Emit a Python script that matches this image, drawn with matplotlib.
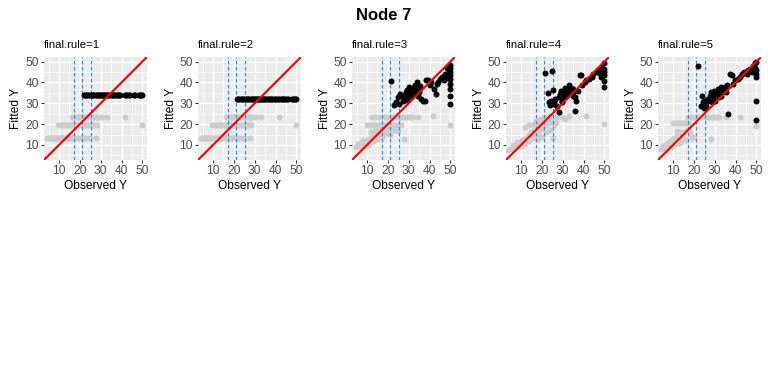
import matplotlib
matplotlib.use("Agg")
import matplotlib.pyplot as plt

plt.rcParams["font.family"] = ["Liberation Sans", "DejaVu Sans"]

# ── data ──
LIMS = (2.75, 52.25)
CUTS = [17.0, 21.2, 25.2]           # dashed split points on observed Y
RULES = ["final.rule=1", "final.rule=2", "final.rule=3", "final.rule=4", "final.rule=5"]

# rule 1 / 2: constant fitted value
rule1_fit = 34.2
rule1_obs = [21.8, 22.4, 23.0, 23.6, 24.1, 24.7, 25.2, 25.8, 26.4, 27.0, 27.5, 28.1,
             28.7, 29.1, 29.6, 30.1, 30.7, 31.2, 31.6, 32.0, 32.5, 33.1, 33.6, 34.2,
             34.9, 35.4, 36.0, 36.5, 37.0, 37.6, 38.2, 38.7, 39.4, 41.7, 42.3, 42.8,
             43.5, 44.0, 46.0, 46.7, 48.3, 48.8, 49.4, 50.0]
rule2_fit = 32.0
rule2_obs = [21.4, 22.0, 22.6, 23.2, 23.8, 24.4, 25.0, 25.6, 26.2, 26.8, 27.4, 28.0,
             28.6, 29.1, 29.6, 30.1, 30.6, 31.1, 31.6, 32.1, 32.6, 33.1, 33.6, 34.1,
             34.6, 35.1, 35.6, 36.2, 36.7, 37.3, 37.9, 38.5, 39.1, 39.8, 40.4, 41.0,
             41.8, 42.4, 43.0, 43.6, 44.2, 44.8, 45.4, 46.1, 47.8, 48.4, 49.0, 49.6, 50.0]

# other observations for rules 1 and 2 (three fitted levels)
grey12_lo_fit = 13.3
grey12_lo_obs = [4.4, 5.0, 5.6, 6.3, 7.0, 7.2, 7.5, 8.1, 8.4, 8.8, 9.5, 10.2, 10.4, 10.9,
                 11.3, 11.8, 12.5, 12.7, 13.1, 13.4, 13.8, 14.1, 14.4, 15.0, 15.6, 16.1,
                 16.6, 17.2, 17.8, 18.4, 19.1, 19.6, 20.3, 21.0, 21.7, 22.6, 23.9, 25.0, 27.5]
grey12_mid_fit = 19.8
grey12_mid_obs = [9.7, 10.5, 11.3, 12.0, 12.7, 13.3, 13.9, 14.5, 15.1, 15.6, 16.1, 16.5,
                  17.1, 17.5, 18.2, 18.7, 19.3, 19.9, 20.4, 21.0, 21.6, 22.2, 22.8, 23.4,
                  24.1, 24.7, 25.3, 26.1, 27.0, 28.1, 50.0]
grey12_hi_fit = 23.4
grey12_hi_obs = [16.3, 17.0, 17.8, 18.5, 19.1, 19.7, 20.2, 20.6, 21.2, 21.7, 22.2, 22.6,
                 23.1, 23.6, 24.3, 24.8, 25.3, 26.0, 26.6, 27.5, 28.4, 29.2, 30.4, 33.2, 41.5]

# rule 3
rule3_obs = [21.6, 23.1, 24.0, 25.2, 24.7, 26.0, 27.4, 28.0, 28.5, 29.3, 29.7, 30.3, 30.7,
             31.0, 31.8, 31.5, 32.3, 32.6, 33.5, 34.0, 34.3, 35.1, 35.6, 36.0, 36.8, 37.6,
             38.1, 39.3, 40.1, 40.9, 42.2, 42.9, 43.4, 44.2, 45.0, 46.2, 47.5, 48.3, 48.8,
             49.5, 50.0, 50.0, 50.0, 50.0, 50.0, 50.0, 50.0, 50.0, 50.0, 48.0, 47.2,
             28.8, 29.8, 31.0, 28.2, 27.0, 30.2, 33.0, 34.6]
rule3_fit = [40.7, 29.3, 30.7, 29.9, 33.2, 34.5, 30.9, 32.9, 35.3, 36.4, 34.2, 35.3, 32.9,
             36.9, 35.8, 33.7, 37.4, 34.5, 36.1, 40.2, 33.7, 35.3, 38.1, 32.0, 30.9, 31.2,
             41.3, 41.0, 38.6, 40.2, 36.9, 34.5, 39.4, 40.2, 41.8, 42.7, 44.3, 47.2, 42.3,
             45.9, 48.4, 47.2, 45.1, 43.5, 41.8, 39.4, 36.9, 33.7, 29.9, 42.3, 41.0,
             31.7, 32.0, 34.8, 34.2, 33.7, 37.8, 38.6, 36.9]
grey3_obs = [5.0, 5.5, 6.2, 7.0, 7.5, 8.0, 8.5, 9.0, 9.5, 10.0, 10.5, 11.0, 11.5, 12.0,
             12.5, 13.0, 13.5, 14.0, 14.5, 15.0, 15.5, 16.0, 16.5, 17.2, 18.0, 19.0, 20.0,
             21.0, 22.0, 23.5, 25.0, 27.7,
             6.0, 8.0, 9.0, 11.0, 13.0, 15.0, 17.0, 19.0, 21.0, 12.0, 14.0, 16.0, 18.0,
             20.0, 4.5, 7.0, 10.0,
             12.6, 14.0, 15.5, 17.0, 18.0, 19.0, 20.0, 21.0, 22.0, 23.0, 24.0, 25.0, 26.0,
             27.0, 28.0, 29.0, 30.0, 31.0, 32.0, 34.3,
             10.0, 11.0, 12.0, 13.0, 14.0, 15.0, 16.0, 17.0, 18.0, 19.0, 20.0, 21.0, 22.0,
             23.0, 24.0, 25.0, 26.5, 41.7, 50.0]
grey3_fit = [9.5, 10.5, 9.8, 10.5, 11.2, 10.2, 11.5, 12.0, 10.8, 12.5, 11.8, 13.0, 12.5,
             13.5, 14.0, 13.0, 14.5, 13.8, 15.0, 14.2, 15.5, 14.5, 15.8, 15.0, 16.2, 15.5,
             16.5, 16.0, 17.0, 17.2, 16.5, 12.8,
             11.0, 12.5, 9.5, 10.5, 12.0, 13.0, 14.0, 17.0, 15.0, 16.0, 17.0, 17.5, 18.2,
             18.0, 9.0, 9.0, 10.0,
             23.4, 23.4, 23.4, 23.4, 23.4, 23.4, 23.4, 23.4, 23.4, 23.4, 23.4, 23.4, 23.4,
             23.4, 23.4, 23.4, 23.4, 23.4, 23.4, 23.4,
             19.8, 19.8, 19.8, 19.8, 19.8, 19.8, 19.8, 19.8, 19.8, 19.8, 19.8, 19.8, 19.8,
             19.8, 19.8, 19.8, 19.8, 23.9, 19.5]

# rule 4
rule4_obs = [21.6, 24.9, 22.9, 23.2, 24.0, 24.5, 25.7, 26.5, 28.2, 28.5, 29.0, 29.5, 29.8,
             30.7, 31.2, 31.5, 32.3, 32.8, 33.1, 34.0, 34.5, 34.8, 35.6, 36.1, 36.4, 36.1,
             37.3, 38.1, 38.9, 39.4, 40.6, 41.4, 42.7, 43.9, 44.7, 46.4, 47.2, 48.0, 48.5,
             48.8, 49.3, 49.7, 50.0, 50.0, 50.0, 50.0, 50.0, 25.2, 34.8, 29.5, 27.4,
             30.0, 31.0, 32.0, 33.5, 28.0, 26.0]
rule4_fit = [44.8, 45.6, 34.8, 30.4, 29.3, 30.9, 29.9, 32.0, 25.8, 34.5, 36.1, 32.9, 31.2,
             35.3, 37.4, 33.7, 36.4, 38.6, 35.3, 37.4, 34.5, 36.9, 36.1, 32.9, 31.2, 26.3,
             35.8, 43.8, 43.5, 38.6, 40.2, 41.0, 41.8, 42.7, 44.3, 45.1, 45.9, 44.6, 42.7,
             47.2, 43.5, 49.2, 46.7, 45.1, 43.5, 40.7, 37.8, 36.4, 33.7, 30.4, 28.8,
             34.0, 33.0, 35.0, 36.0, 33.0, 31.0]
grey4_obs = [5.0, 5.5, 6.0, 6.5, 7.0, 7.5, 8.0, 8.5, 9.0, 9.5, 10.0, 10.5, 11.0, 11.5,
             12.0, 12.5, 13.0, 13.5, 14.0, 14.5, 15.0, 15.5, 16.0, 16.5, 17.0, 17.5, 18.0,
             18.5, 19.0, 19.5, 20.0, 20.5, 21.0, 21.5, 22.0, 22.5, 23.0, 23.5, 24.0, 25.0,
             26.0, 27.0, 28.0, 29.5, 31.0, 33.0, 27.0, 26.0, 24.0, 22.0, 20.0, 18.0, 16.0,
             14.0, 12.0, 3.6, 25.5, 41.0, 50.0,
             6.0, 8.0, 10.0, 12.0, 14.0, 16.0, 18.0, 20.0, 22.0, 24.0, 17.0, 19.0, 21.0]
grey4_fit = [7.8, 8.5, 9.0, 8.0, 9.5, 10.0, 8.8, 10.5, 11.0, 10.0, 11.5, 12.5, 11.0, 13.0,
             12.2, 13.5, 14.0, 13.0, 15.0, 14.2, 16.0, 15.0, 17.0, 16.2, 18.0, 17.0, 19.0,
             18.2, 20.0, 19.0, 21.0, 20.0, 22.2, 21.0, 23.0, 21.8, 23.5, 22.2, 24.0, 23.0,
             22.5, 23.5, 24.0, 23.5, 22.5, 24.0, 21.0, 19.5, 17.0, 16.0, 14.0, 13.0, 20.0,
             19.5, 18.5, 7.6, 13.5, 23.9, 20.0,
             10.0, 11.5, 9.5, 10.5, 12.0, 13.5, 15.5, 17.5, 19.5, 21.0, 21.5, 22.5, 23.5]

# rule 5
rule5_obs = [21.8, 23.7, 23.4, 24.2, 25.3, 25.8, 26.7, 27.5, 28.3, 28.6, 29.1, 29.9, 30.2,
             30.7, 31.6, 31.9, 32.4, 32.9, 33.2, 34.0, 34.8, 35.6, 36.1, 36.4, 37.3, 38.4,
             38.9, 39.7, 41.0, 42.2, 43.0, 44.3, 45.4, 46.2, 47.1, 47.9, 48.4, 49.2, 49.5,
             50.0, 50.0, 50.0, 50.0, 50.0, 50.0, 25.0, 29.0, 31.0, 33.0, 27.0]
rule5_fit = [47.9, 33.7, 28.8, 30.4, 31.2, 28.8, 32.0, 33.7, 35.3, 30.4, 32.9, 36.1, 31.2,
             34.5, 36.9, 32.9, 35.3, 37.8, 33.7, 36.1, 37.8, 35.3, 38.6, 25.0, 44.3, 43.8,
             39.4, 41.0, 41.8, 42.7, 44.3, 45.1, 44.0, 45.9, 46.7, 45.1, 47.9, 49.2, 47.2,
             50.0, 45.9, 44.3, 42.7, 31.1, 21.8, 27.6, 34.0, 35.0, 36.0, 31.0]
grey5_obs = [4.0, 4.5, 5.0, 5.5, 6.0, 6.5, 7.0, 7.5, 8.0, 8.5, 9.0, 9.5, 10.0, 10.5, 11.0,
             11.5, 12.0, 12.5, 13.0, 13.5, 14.0, 14.5, 15.0, 16.0, 17.0, 18.0, 19.0, 20.0,
             16.0, 14.0, 7.0, 9.0, 11.0, 13.0, 12.0,
             10.0, 11.0, 12.0, 13.0, 14.0, 15.0, 16.0, 17.0,
             17.0, 18.0, 19.0, 20.0, 21.0, 22.0, 23.0, 24.0, 25.0, 26.0, 27.0, 28.0, 29.0,
             30.0, 31.0, 32.0, 35.6, 42.0, 50.0, 28.3]
grey5_fit = [8.0, 9.0, 8.5, 9.5, 10.0, 9.0, 10.5, 11.0, 9.8, 11.5, 12.0, 11.0, 12.5, 13.5,
             12.0, 14.0, 13.0, 15.0, 14.0, 15.5, 16.0, 14.5, 15.5, 16.5, 17.0, 16.0, 13.3,
             13.8, 12.5, 11.5, 8.0, 9.0, 10.5, 11.0, 16.5,
             20.4, 20.4, 20.4, 20.4, 20.4, 20.4, 20.4, 20.4,
             23.4, 23.4, 23.4, 23.4, 23.4, 23.4, 23.4, 23.4, 23.4, 23.4, 23.4, 23.4, 23.4,
             23.4, 23.4, 23.4, 23.4, 23.3, 19.2, 12.9]

grey12_obs = grey12_lo_obs + grey12_mid_obs + grey12_hi_obs
grey12_fit = ([grey12_lo_fit] * len(grey12_lo_obs) + [grey12_mid_fit] * len(grey12_mid_obs)
              + [grey12_hi_fit] * len(grey12_hi_obs))

panels = [
    (grey12_obs, grey12_fit, rule1_obs, [rule1_fit] * len(rule1_obs)),
    (grey12_obs, grey12_fit, rule2_obs, [rule2_fit] * len(rule2_obs)),
    (grey3_obs, grey3_fit, rule3_obs, rule3_fit),
    (grey4_obs, grey4_fit, rule4_obs, rule4_fit),
    (grey5_obs, grey5_fit, rule5_obs, rule5_fit),
]

# ── plot ──
W, H = 768, 384
fig = plt.figure(figsize=(W / 96, H / 96), dpi=96)
fig.text(0.5, 1 - 15 / H, "Node 7", ha="center", va="center",
         fontsize=12.5, fontweight="bold")

lefts = [44, 198, 352, 506, 658]
pw, top, bottom = 103, 57, 160

for i, (gx, gy, bx, by) in enumerate(panels):
    ax = fig.add_axes([lefts[i] / W, 1 - bottom / H, pw / W, (bottom - top) / H])
    ax.set_facecolor("#EBEBEB")
    ax.set_xlim(LIMS)
    ax.set_ylim(LIMS)
    ax.set_xticks([10, 20, 30, 40, 50])
    ax.set_yticks([10, 20, 30, 40, 50])
    ax.set_xticks([5, 15, 25, 35, 45], minor=True)
    ax.set_yticks([5, 15, 25, 35, 45], minor=True)
    ax.grid(which="major", color="white", linewidth=1.0)
    ax.grid(which="minor", color="white", linewidth=0.5)
    ax.set_axisbelow(True)
    for s in ax.spines.values():
        s.set_visible(False)
    ax.tick_params(which="major", length=2.5, width=0.8, color="#333333",
                   labelsize=9, labelcolor="#4D4D4D", pad=1.5)
    ax.tick_params(which="minor", length=0)

    ax.scatter(gx, gy, s=20, color="#CCCCCC", linewidths=0, zorder=2)
    for c in CUTS:
        ax.axvline(c, color="#1E90FF", linestyle=(0, (3, 2)), linewidth=0.9, zorder=3)
    ax.scatter(bx, by, s=20, color="black", linewidths=0, zorder=4)
    ax.plot(LIMS, LIMS, color="red", linewidth=1.6, zorder=5)

    ax.set_xlabel("Observed Y", fontsize=9, labelpad=2)
    ax.set_ylabel("Fitted Y", fontsize=9, labelpad=2)
    ax.text(0, 1.07, RULES[i], transform=ax.transAxes, ha="left", va="bottom",
            fontsize=8.5)

fig.savefig("out.png", dpi=96)
